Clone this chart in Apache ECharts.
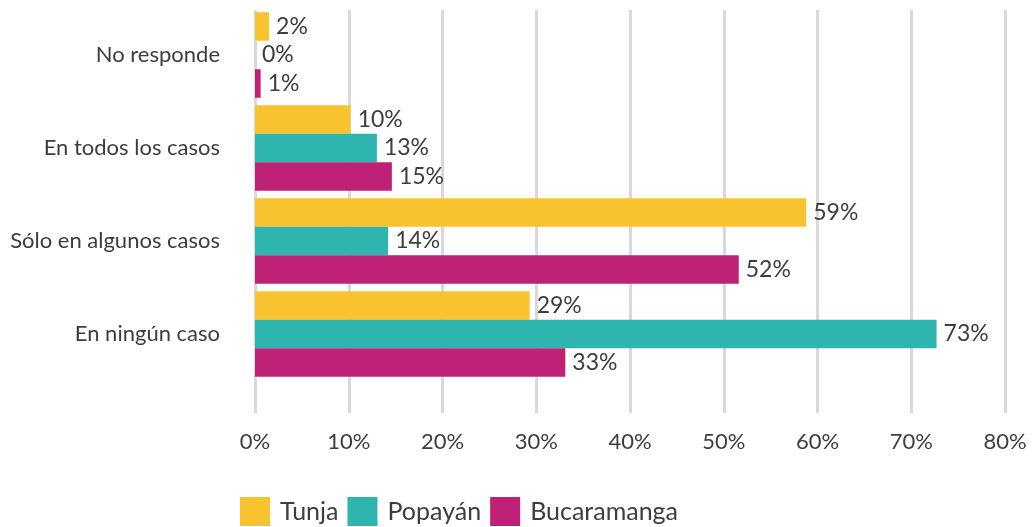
<!DOCTYPE html>
<html>
<head>
<meta charset="utf-8">
<script src="https://cdn.jsdelivr.net/npm/echarts@6/dist/echarts.min.js"></script>
<style>
html,body{margin:0;padding:0;background:#fff;}
#chart{width:1033px;height:527px;}
</style>
</head>
<body>
<div id="chart"></div>
<script>
// Categories (top to bottom)
const categories = ['No responde', 'En todos los casos', 'Sólo en algunos casos', 'En ningún caso'];
// Series values (percent)
const tunja = [1.5, 10.2, 58.8, 29.3];
const popayan = [0, 13.0, 14.2, 72.7];
const bucaramanga = [0.6, 14.6, 51.6, 33.1];
// Axis ticks
const xMin = 0, xMax = 80, xInterval = 10;

const FONT = 'Lato';
const TXT = '#3d3d3d';
const colors = {Tunja: '#F9C32F', 'Popayán': '#2EB5B0', Bucaramanga: '#BE2176'};

const chart = echarts.init(document.getElementById('chart'), null, {renderer: 'canvas'});

function barSeries(name, data) {
  return {
    name: name,
    type: 'bar',
    xAxisIndex: 0,
    yAxisIndex: 0,
    data: data,
    barWidth: 28.5,
    barGap: '0%',
    itemStyle: {color: colors[name]},
    label: {
      show: true,
      position: 'right',
      distance: 7,
      color: TXT,
      fontFamily: FONT,
      fontSize: 23,
      formatter: p => Math.round(p.value) + '%'
    }
  };
}

chart.setOption({
  animation: false,
  textStyle: {fontFamily: FONT},
  grid: [
    {left: 255, right: 28, top: 8.5, height: 372, containLabel: false, outerBoundsMode: 'none'},
    {left: 255, right: 28, top: 10, height: 403, containLabel: false, outerBoundsMode: 'none'}
  ],
  legend: {
    data: ['Tunja', 'Popayán', 'Bucaramanga'],
    left: 240,
    top: 497,
    padding: 0,
    itemWidth: 30,
    itemHeight: 29,
    itemGap: 9,
    icon: 'rect',
    textStyle: {color: TXT, fontFamily: FONT, fontSize: 25, padding: [0, 0, 0, 5]}
  },
  xAxis: [
    {gridIndex: 0, type: 'value', min: xMin, max: xMax, interval: xInterval, show: false},
    {
      gridIndex: 1, type: 'value', min: xMin, max: xMax, interval: xInterval,
      axisLine: {show: false}, axisTick: {show: false},
      splitLine: {show: true, lineStyle: {color: '#d9d9d9', width: 3}},
      axisLabel: {color: TXT, fontFamily: FONT, fontSize: 22, margin: 18, formatter: '{value}%'}
    }
  ],
  yAxis: [
    {
      gridIndex: 0, type: 'category', data: categories, inverse: true,
      axisLine: {show: false}, axisTick: {show: false}, splitLine: {show: false},
      axisLabel: {color: TXT, fontFamily: FONT, fontSize: 22, margin: 35}
    },
    {gridIndex: 1, type: 'value', min: 0, max: 1, show: false, splitLine: {show: false}}
  ],
  series: [
    barSeries('Tunja', tunja),
    barSeries('Popayán', popayan),
    barSeries('Bucaramanga', bucaramanga)
  ]
});
</script>
</body>
</html>
